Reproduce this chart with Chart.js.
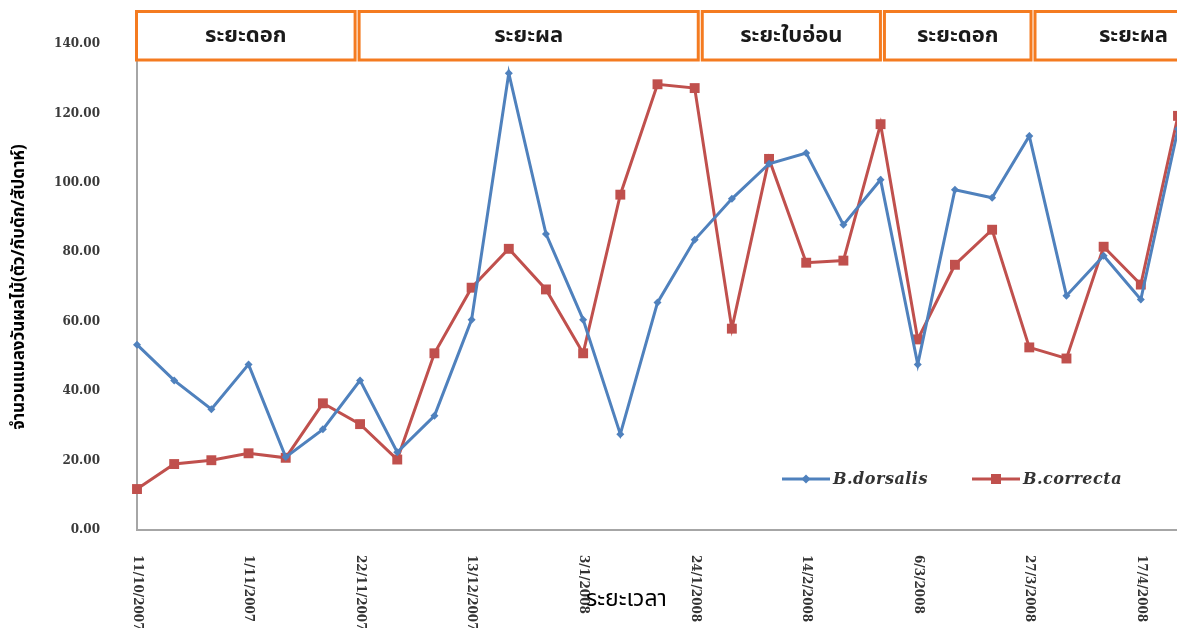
<!DOCTYPE html>
<html>
<head>
<meta charset="utf-8">
<title>Fruit fly trap counts</title>
<script src="https://cdn.jsdelivr.net/npm/chart.js@4"></script>
<style>
  html, body { margin: 0; padding: 0; background: #fff; overflow: hidden; }
  #wrap { width: 1177px; height: 628px; overflow: hidden; }
</style>
</head>
<body>
<div id="wrap"><canvas id="chart" width="1190" height="628"></canvas></div>
<script>
// weekly sampling dates
const dates = ['11/10/2007', '18/10/2007', '25/10/2007', '1/11/2007', '8/11/2007', '15/11/2007',
  '22/11/2007', '29/11/2007', '6/12/2007', '13/12/2007', '20/12/2007', '27/12/2007',
  '3/1/2008', '10/1/2008', '17/1/2008', '24/1/2008', '31/1/2008', '7/2/2008',
  '14/2/2008', '21/2/2008', '28/2/2008', '6/3/2008', '13/3/2008', '20/3/2008',
  '27/3/2008', '3/4/2008', '10/4/2008', '17/4/2008', '24/4/2008'];

const dorsalis = [53.4, 43.1, 34.8, 47.7, 21.0, 29.0, 43.1, 22.4, 32.9, 60.6, 131.6, 85.3,
  60.6, 27.6, 65.5, 83.6, 95.4, 105.5, 108.6, 87.9, 100.9, 47.7, 98.0, 95.7,
  113.5, 67.5, 79.0, 66.4, 115.5];
const correcta = [11.8, 19.0, 20.1, 22.1, 20.8, 36.5, 30.5, 20.3, 50.9, 69.8, 81.0, 69.3,
  50.9, 96.6, 128.4, 127.3, 58.0, 106.9, 77.0, 77.6, 116.9, 54.9, 76.4, 86.5,
  52.6, 49.4, 81.6, 70.7, 119.3];

// crop phases, bounds in category units
const phaseNames = ['ระยะดอก', 'ระยะผล', 'ระยะใบอ่อน', 'ระยะดอก', 'ระยะผล'];
const phaseBounds = [0, 5.92, 15.15, 20.05, 24.1, 29.5];

const yTicks = [0, 20, 40, 60, 80, 100, 120, 140];

const BLUE = '#4F81BD';
const RED = '#C0504D';
const ORANGE = '#F47B20';
const THAI = "'Noto Sans Thai', 'Noto Sans Thai UI', Loma, Garuda, Tahoma, 'DejaVu Sans', sans-serif";
const TICKFONT = "bold 12px 'DejaVu Serif', serif";

const overlay = {
  id: 'overlay',
  afterDraw(chart) {
    const { ctx, chartArea } = chart;
    const x = chart.scales.x;
    ctx.save();

    // phase boxes across the top
    phaseNames.forEach((name, k) => {
      const x0 = x.getPixelForValue(phaseBounds[k]) + (k === 0 ? -0.5 : 2);
      const x1 = x.getPixelForValue(phaseBounds[k + 1]) - 2;
      const top = 11.5, h = 48.5;
      ctx.fillStyle = '#fff';
      ctx.fillRect(x0, top, x1 - x0, h);
      ctx.strokeStyle = ORANGE;
      ctx.lineWidth = 3;
      ctx.strokeRect(x0, top, x1 - x0, h);
      ctx.fillStyle = '#1a1a1a';
      ctx.font = 'bold 22px ' + THAI;
      ctx.textAlign = 'center';
      ctx.textBaseline = 'middle';
      ctx.fillText(name, (x0 + x1) / 2, top + h / 2 + 2);
    });

    // x tick labels, rotated clockwise
    ctx.font = TICKFONT;
    ctx.fillStyle = '#333';
    ctx.textAlign = 'left';
    ctx.textBaseline = 'middle';
    dates.forEach((d, i) => {
      if (i % 3 !== 0) return;
      ctx.save();
      ctx.translate(x.getPixelForValue(i), chartArea.bottom + 25);
      ctx.rotate(Math.PI / 2);
      ctx.fillText(d, 0, 0);
      ctx.restore();
    });

    // x axis title
    ctx.font = '23px ' + THAI;
    ctx.fillStyle = '#000';
    ctx.textAlign = 'center';
    ctx.fillText('ระยะเวลา', (chartArea.left + chartArea.right) / 2 - 31, chartArea.bottom + 71);

    // legend inside the plot
    const ly = chartArea.bottom - 51;
    const items = [
      { label: 'B.dorsalis', color: BLUE, x: 782, style: 'diamond' },
      { label: 'B.correcta', color: RED, x: 972, style: 'square' }
    ];
    items.forEach(it => {
      ctx.strokeStyle = it.color;
      ctx.lineWidth = 3;
      ctx.beginPath();
      ctx.moveTo(it.x, ly);
      ctx.lineTo(it.x + 48, ly);
      ctx.stroke();
      ctx.fillStyle = it.color;
      const cx = it.x + 24;
      if (it.style === 'square') {
        ctx.fillRect(cx - 5, ly - 5, 10, 10);
      } else {
        ctx.beginPath();
        ctx.moveTo(cx, ly - 4.5); ctx.lineTo(cx + 4.5, ly);
        ctx.lineTo(cx, ly + 4.5); ctx.lineTo(cx - 4.5, ly);
        ctx.closePath(); ctx.fill();
      }
      ctx.fillStyle = '#333';
      ctx.font = "italic bold 16px 'DejaVu Serif', serif";
      ctx.letterSpacing = '0.5px';
      ctx.textAlign = 'left';
      ctx.textBaseline = 'middle';
      ctx.fillText(it.label, it.x + 51, ly + 1);
      ctx.letterSpacing = '0px';
    });

    ctx.restore();
  }
};

new Chart(document.getElementById('chart'), {
  type: 'line',
  data: {
    labels: dates,
    datasets: [
      {
        label: 'B.dorsalis',
        data: dorsalis,
        borderColor: BLUE,
        backgroundColor: BLUE,
        borderWidth: 3,
        pointStyle: 'rectRot',
        pointRadius: 4,
        pointBorderWidth: 0,
        tension: 0
      },
      {
        label: 'B.correcta',
        data: correcta,
        borderColor: RED,
        backgroundColor: RED,
        borderWidth: 3,
        pointStyle: 'rect',
        pointRadius: 7,
        pointBorderWidth: 0,
        tension: 0
      }
    ]
  },
  options: {
    responsive: false,
    animation: false,
    layout: { padding: { top: 44, bottom: 90, right: 12, left: 0 } },
    plugins: { legend: { display: false }, tooltip: { enabled: false } },
    scales: {
      x: {
        offset: false,
        grid: { display: false },
        border: { color: '#A6A6A6', width: 2 },
        ticks: { display: false }
      },
      y: {
        min: 0,
        max: 140,
        afterFit: s => { s.width = 137; },
        afterBuildTicks: s => { s.ticks = yTicks.map(v => ({ value: v })); },
        grid: { display: false },
        border: { color: '#A6A6A6', width: 2 },
        ticks: {
          padding: 29,
          color: '#3a3a3a',
          font: { family: "'DejaVu Serif', serif", size: 12, weight: 'bold' },
          callback: v => v.toFixed(2)
        },
        title: {
          display: true,
          text: 'จำนวนแมลงวันผลไม้(ตัว/กับดัก/สัปดาห์)',
          color: '#000',
          font: { family: THAI, size: 17, weight: 'bold' },
          padding: { top: 10, bottom: 0 }
        }
      }
    }
  },
  plugins: [overlay]
});
</script>
</body>
</html>
